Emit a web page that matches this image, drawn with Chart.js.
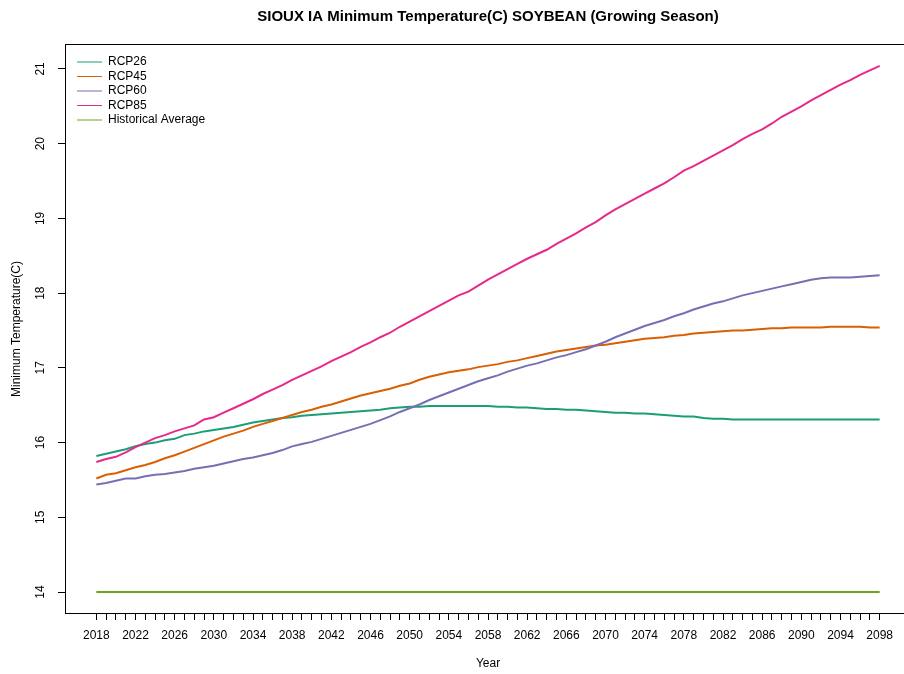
<!DOCTYPE html>
<html>
<head>
<meta charset="utf-8">
<script src="https://cdn.jsdelivr.net/npm/chart.js@4/dist/chart.umd.min.js"></script>
<style>
  html, body { margin: 0; padding: 0; background: #fff; }
  #wrap { width: 904px; height: 674px; overflow: hidden; }
</style>
</head>
<body>
<div id="wrap"><canvas id="chart" width="911" height="674"></canvas></div>
<script>
const years = Array.from({ length: 81 }, (_, i) => 2018 + i);
const xTickLabels = [2018, 2022, 2026, 2030, 2034, 2038, 2042, 2046, 2050, 2054, 2058,
  2062, 2066, 2070, 2074, 2078, 2082, 2086, 2090, 2094, 2098];
const yTicks = [14, 15, 16, 17, 18, 19, 20, 21];

const rcp26 = [
  15.82, 15.85, 15.88, 15.91, 15.95, 15.98, 16.00, 16.03, 16.05, 16.10,
  16.12, 16.15, 16.17, 16.19, 16.21, 16.24, 16.27, 16.29, 16.31, 16.33,
  16.34, 16.36, 16.37, 16.38, 16.39, 16.40, 16.41, 16.42, 16.43, 16.44,
  16.46, 16.47, 16.48, 16.48, 16.49, 16.49, 16.49, 16.49, 16.49, 16.49,
  16.49, 16.48, 16.48, 16.47, 16.47, 16.46, 16.45, 16.45, 16.44, 16.44,
  16.43, 16.42, 16.41, 16.40, 16.40, 16.39, 16.39, 16.38, 16.37, 16.36,
  16.35, 16.35, 16.33, 16.32, 16.32, 16.31, 16.31, 16.31, 16.31, 16.31,
  16.31, 16.31, 16.31, 16.31, 16.31, 16.31, 16.31, 16.31, 16.31, 16.31,
  16.31
];
const rcp45 = [
  15.52, 15.57, 15.59, 15.63, 15.67, 15.70, 15.74, 15.79, 15.83, 15.88,
  15.93, 15.98, 16.03, 16.08, 16.12, 16.16, 16.21, 16.25, 16.29, 16.33,
  16.37, 16.41, 16.44, 16.48, 16.51, 16.55, 16.59, 16.63, 16.66, 16.69,
  16.72, 16.76, 16.79, 16.84, 16.88, 16.91, 16.94, 16.96, 16.98, 17.01,
  17.03, 17.05, 17.08, 17.10, 17.13, 17.16, 17.19, 17.22, 17.24, 17.26,
  17.28, 17.30, 17.31, 17.33, 17.35, 17.37, 17.39, 17.40, 17.41, 17.43,
  17.44, 17.46, 17.47, 17.48, 17.49, 17.50, 17.50, 17.51, 17.52, 17.53,
  17.53, 17.54, 17.54, 17.54, 17.54, 17.55, 17.55, 17.55, 17.55, 17.54,
  17.54
];
const rcp60 = [
  15.44, 15.46, 15.49, 15.52, 15.52, 15.55, 15.57, 15.58, 15.60, 15.62,
  15.65, 15.67, 15.69, 15.72, 15.75, 15.78, 15.80, 15.83, 15.86, 15.90,
  15.95, 15.98, 16.01, 16.05, 16.09, 16.13, 16.17, 16.21, 16.25, 16.30,
  16.35, 16.41, 16.46, 16.51, 16.57, 16.62, 16.67, 16.72, 16.77, 16.82,
  16.86, 16.90, 16.95, 16.99, 17.03, 17.06, 17.10, 17.14, 17.17, 17.21,
  17.25, 17.30, 17.35, 17.41, 17.46, 17.51, 17.56, 17.60, 17.64, 17.69,
  17.73, 17.78, 17.82, 17.86, 17.89, 17.93, 17.97, 18.00, 18.03, 18.06,
  18.09, 18.12, 18.15, 18.18, 18.20, 18.21, 18.21, 18.21, 18.22, 18.23,
  18.24
];
const rcp85 = [
  15.74, 15.78, 15.81, 15.87, 15.94, 16.00, 16.06, 16.10, 16.15, 16.19,
  16.23, 16.31, 16.34, 16.40, 16.46, 16.52, 16.58, 16.65, 16.71, 16.77,
  16.84, 16.90, 16.96, 17.02, 17.09, 17.15, 17.21, 17.28, 17.34, 17.41,
  17.47, 17.55, 17.62, 17.69, 17.76, 17.83, 17.90, 17.97, 18.02, 18.10,
  18.18, 18.25, 18.32, 18.39, 18.46, 18.52, 18.58, 18.66, 18.73, 18.80,
  18.88, 18.95, 19.04, 19.12, 19.19, 19.26, 19.33, 19.40, 19.47, 19.55,
  19.64, 19.70, 19.77, 19.84, 19.91, 19.98, 20.06, 20.13, 20.19, 20.27,
  20.36, 20.43, 20.50, 20.58, 20.65, 20.72, 20.79, 20.85, 20.92, 20.98,
  21.04
];
const historical = [
  14.00, 14.00, 14.00, 14.00, 14.00, 14.00, 14.00, 14.00, 14.00, 14.00,
  14.00, 14.00, 14.00, 14.00, 14.00, 14.00, 14.00, 14.00, 14.00, 14.00,
  14.00, 14.00, 14.00, 14.00, 14.00, 14.00, 14.00, 14.00, 14.00, 14.00,
  14.00, 14.00, 14.00, 14.00, 14.00, 14.00, 14.00, 14.00, 14.00, 14.00,
  14.00, 14.00, 14.00, 14.00, 14.00, 14.00, 14.00, 14.00, 14.00, 14.00,
  14.00, 14.00, 14.00, 14.00, 14.00, 14.00, 14.00, 14.00, 14.00, 14.00,
  14.00, 14.00, 14.00, 14.00, 14.00, 14.00, 14.00, 14.00, 14.00, 14.00,
  14.00, 14.00, 14.00, 14.00, 14.00, 14.00, 14.00, 14.00, 14.00, 14.00,
  14.00
];

const seriesNames = ["RCP26", "RCP45", "RCP60", "RCP85", "Historical Average"];
const seriesValues = [rcp26, rcp45, rcp60, rcp85, historical];
const seriesColors = ["#1B9E77", "#D95F02", "#7570B3", "#E7298A", "#66A61E"];

Chart.defaults.font.family = "'Liberation Sans', Arial, sans-serif";
Chart.defaults.font.size = 12;
Chart.defaults.color = "#000";

const datasets = seriesNames.map((name, i) => ({
  label: name,
  data: years.map((yr, j) => ({ x: yr, y: seriesValues[i][j] })),
  borderColor: seriesColors[i],
  backgroundColor: seriesColors[i],
  borderWidth: 2,
  pointRadius: 0,
  tension: 0,
  fill: false,
  order: -i,
}));

// R-style box around the plot region, and legend placed inside it
const plotBox = {
  id: "plotBox",
  afterLayout(chart) {
    const ca = chart.chartArea;
    const lg = chart.legend;
    lg.left = ca.left + 9.5;
    lg.top = ca.top + 8.5;
    lg.right = ca.right;
    lg.bottom = ca.bottom;
  },
  afterDatasetsDraw(chart) {
    const { ctx, chartArea: ca } = chart;
    ctx.save();
    ctx.strokeStyle = "#000";
    ctx.lineWidth = 1;
    ctx.strokeRect(ca.left + 0.5, ca.top - 0.5, ca.right - ca.left, ca.bottom - ca.top + 1);
    ctx.restore();
  },
};

new Chart(document.getElementById("chart"), {
  type: "line",
  data: { datasets },
  options: {
    responsive: false,
    animation: false,
    layout: { padding: 0 },
    scales: {
      x: {
        type: "linear",
        min: 2014.8,
        max: 2101.2,
        afterBuildTicks: (s) => { s.ticks = years.map((v) => ({ value: v })); },
        afterFit: (s) => { s.height = 61; },
        border: { display: false },
        grid: { drawOnChartArea: false, drawTicks: true, tickLength: 7, tickColor: "#000" },
        ticks: {
          autoSkip: false,
          maxRotation: 0,
          padding: 8,
          color: "#000",
          callback: (v) => (xTickLabels.includes(v) ? String(v) : ""),
        },
        title: { display: true, text: "Year", padding: { top: 0, bottom: 3 } },
      },
      y: {
        min: 13.72,
        max: 21.32,
        afterBuildTicks: (s) => { s.ticks = yTicks.map((v) => ({ value: v })); },
        afterFit: (s) => { s.width = 65; },
        border: { display: false },
        grid: { drawOnChartArea: false, drawTicks: true, tickLength: 7, tickColor: "#000" },
        ticks: {
          minRotation: 90,
          maxRotation: 90,
          crossAlign: "center",
          padding: 11,
          color: "#000",
        },
        title: { display: true, text: "Minimum Temperature(C)", padding: { top: 9, bottom: 0 } },
      },
    },
    plugins: {
      title: {
        display: true,
        fullSize: false,
        text: "SIOUX IA Minimum Temperature(C) SOYBEAN (Growing Season)",
        font: { size: 15, weight: "bold" },
        color: "#000",
        padding: { top: 8, bottom: 19 },
      },
      legend: {
        position: "chartArea",
        align: "start",
        labels: {
          usePointStyle: true,
          pointStyle: "line",
          pointStyleWidth: 25,
          padding: 2.5,
          color: "#000",
          sort: (a, b) => a.datasetIndex - b.datasetIndex,
          generateLabels: (chart) =>
            Chart.defaults.plugins.legend.labels.generateLabels(chart).map((l) => ({ ...l, lineWidth: 1 })),
        },
      },
      tooltip: { enabled: false },
    },
  },
  plugins: [plotBox],
});
</script>
</body>
</html>
